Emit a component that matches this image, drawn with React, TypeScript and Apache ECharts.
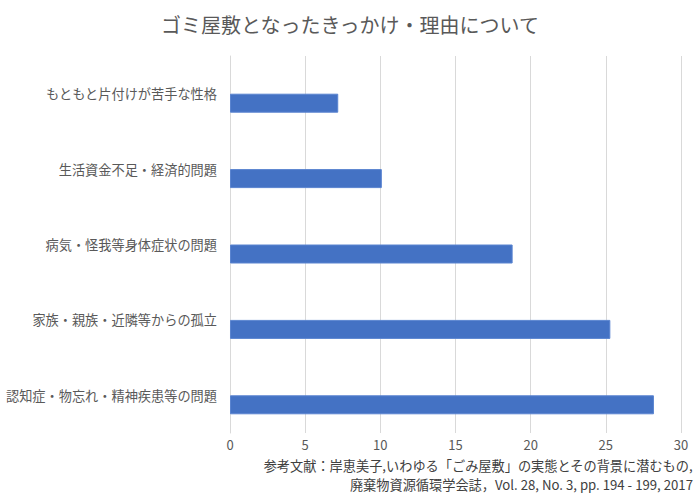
import React, { useEffect, useRef } from "react";
import * as echarts from "echarts";

const titleText = "ゴミ屋敷となったきっかけ・理由について";
const categories = [
  "もともと片付けが苦手な性格",
  "生活資金不足・経済的問題",
  "病気・怪我等身体症状の問題",
  "家族・親族・近隣等からの孤立",
  "認知症・物忘れ・精神疾患等の問題",
];
const values = [7.2, 10.1, 18.8, 25.3, 28.2];
const placeholder = ["-", "-", "-", "-", "-"];
const xTicks = { min: 0, max: 30, interval: 5 };
const sourceLines = [
  "参考文献：岸恵美子,いわゆる「ごみ屋敷」の実態とその背景に潜むもの,",
  "廃棄物資源循環学会誌，Vol. 28, No. 3, pp. 194 - 199, 2017",
];

const FONT = "'Noto Sans CJK JP', 'Noto Sans', sans-serif";

export default function App() {
  const ref = useRef<HTMLDivElement>(null);
  useEffect(() => {
    document.body.style.margin = "0";
    if (!ref.current) return;
    const chart = echarts.init(ref.current, null, { renderer: "svg" });
    chart.setOption({
      animation: false,
      backgroundColor: "#ffffff",
      textStyle: { fontFamily: FONT },
      title: {
        text: titleText,
        left: "center",
        top: 9,
        textStyle: { fontFamily: FONT, fontSize: 20, fontWeight: "normal", color: "#595959" },
      },
      grid: { left: 230, right: 19, top: 56, bottom: 67, containLabel: false },
      xAxis: {
        type: "value",
        min: xTicks.min,
        max: xTicks.max,
        interval: xTicks.interval,
        axisLine: { show: false },
        axisTick: { show: false },
        axisLabel: { fontSize: 13, color: "#595959", margin: 5, fontFamily: FONT },
        splitLine: { show: true, lineStyle: { color: "#d9d9d9", width: 1 } },
      },
      yAxis: {
        type: "category",
        data: categories,
        inverse: true,
        axisLine: { show: true, lineStyle: { color: "#d9d9d9" } },
        axisTick: { show: false },
        axisLabel: { fontSize: 13.2, color: "#595959", margin: 13, fontFamily: FONT },
      },
      series: [
        {
          type: "bar",
          data: placeholder,
          barWidth: 19,
          barGap: "0%",
          itemStyle: { color: "transparent" },
        },
        {
          type: "bar",
          data: values,
          barWidth: 19,
          barGap: "0%",
          itemStyle: { color: "#4472C4", borderColor: "#5a84d0", borderWidth: 1 },
        },
      ],
      graphic: sourceLines.map((t, i) => ({
        type: "text",
        right: 7,
        top: 459 + i * 19,
        style: { text: t, fontSize: 13.2, fill: "#404040", fontFamily: FONT },
      })),
    });
    return () => chart.dispose();
  }, []);
  return <div ref={ref} style={{ width: 700, height: 500 }} />;
}
